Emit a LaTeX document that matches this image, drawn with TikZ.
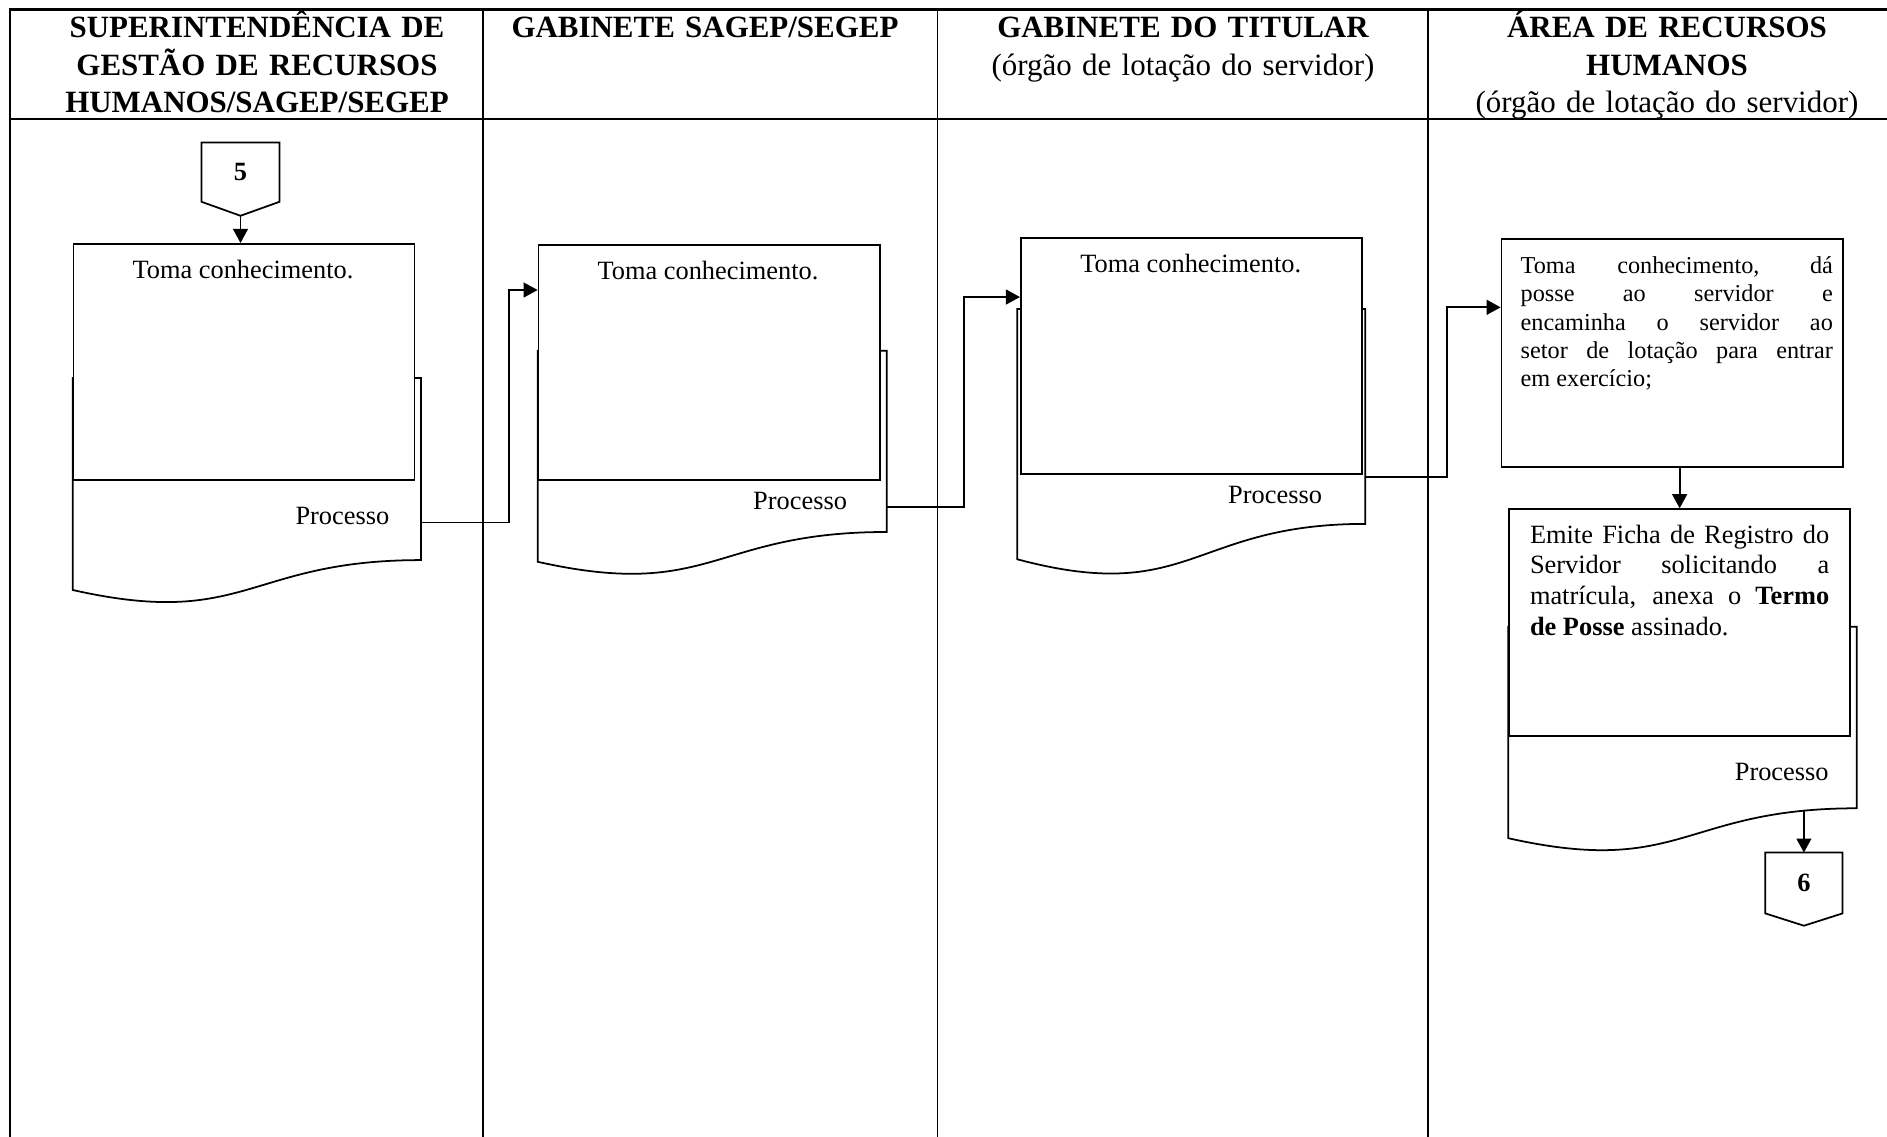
\documentclass[tikz,border=0pt]{standalone}
\usepackage{fontspec}
\setmainfont{Liberation Serif}
\usetikzlibrary{arrows.meta}

\begin{document}
\begin{tikzpicture}[x=0.01cm,y=-0.01cm,
    head/.style={font=\fontsize{8.8}{10.6}\selectfont\bfseries, align=center, text width=4.4cm, inner sep=0, anchor=base},
    task/.style={draw, fill=white, line width=0.5pt, inner sep=0, anchor=north west},
    txt/.style={font=\fontsize{7.5}{8.7}\selectfont, inner sep=0},
    doc/.style={draw, fill=white, line width=0.5pt},
    flow/.style={line width=0.55pt, -{Triangle[length=4pt,width=4.2pt]}}]
        \useasboundingbox (0,0) rectangle (1887,1137);

        % Lanes
        \draw[line width=0.65pt] (10,1137) -- (10,9.5) -- (1887,9.5);
        \draw[line width=0.65pt] (10,119) -- (1887,119);
        \draw[line width=0.4pt] (483,9.5) -- (483,1137);
        \draw[line width=0.4pt] (937.5,9.5) -- (937.5,1137);
        \draw[line width=0.4pt] (1428,9.5) -- (1428,1137);

        % Lane titles
        \node[head] (h1) at (257,38) {SUPERINTENDÊNCIA DE\\GESTÃO DE RECURSOS\\HUMANOS/SAGEP/SEGEP};
        \node[head] (h2) at (705,38) {GABINETE SAGEP/SEGEP};
        \node[head] (h3) at (1183,38) {GABINETE DO TITULAR\\{\mdseries (órgão de lotação do servidor)}};
        \node[head] (h4) at (1667,38) {ÁREA DE RECURSOS\\HUMANOS\\{\mdseries (órgão de lotação do servidor)}};

        % Incoming page connector
        \node[txt, font=\fontsize{7.5}{8.7}\selectfont\bfseries, minimum width=0.767cm, minimum height=0.577cm] (c5) at (240.5,172.2) {5};
        \draw[line width=0.5pt] (c5.south west) -- (c5.north west) -- (c5.north east) -- (c5.south east) -- ([yshift=-0.14cm]c5.south) -- cycle;
        \coordinate (c5tip) at ([yshift=-0.14cm]c5.south);

        % Step 1 with its document
        \draw[doc] (72.7,378) -- (421,378) -- (421,560.1) .. controls (246.9,560.1) and (246.9,629.3) .. (72.7,590) -- cycle;
        \node[task, minimum width=3.406cm, minimum height=2.363cm] (b1) at (72.7,243) {};
        \node[txt, anchor=base] (t1) at (243,278.3) {Toma conhecimento.};
        \node[txt, anchor=base east] (p1) at (390,525) {Processo};
        \coordinate (d1r) at (421,522.5);

        % Step 2
        \draw[doc] (537.7,350.7) -- (886.7,350.7) -- (886.7,532) .. controls (712.2,532) and (712.2,600.9) .. (537.7,561.8) -- cycle;
        \node[task, minimum width=3.41cm, minimum height=2.353cm] (b2) at (537.7,244) {};
        \node[txt, anchor=base] (t2) at (708,279.3) {Toma conhecimento.};
        \node[txt, anchor=base east] (p2) at (847.7,510) {Processo};
        \coordinate (d2r) at (886.7,507.3);

        % Step 3
        \draw[doc] (1017.3,309) -- (1365.3,309) -- (1365.3,523.9) .. controls (1191.3,523.9) and (1191.3,605.7) .. (1017.3,559.3) -- cycle;
        \node[task, minimum width=3.41cm, minimum height=2.354cm] (b3) at (1020,237.3) {};
        \node[txt, anchor=base] (t3) at (1190.8,272.3) {Toma conhecimento.};
        \node[txt, anchor=base east] (p3) at (1322.7,503.3) {Processo};
        \coordinate (d3r) at (1365.3,476.7);

        % Step 4 (no document)
        \node[task, minimum width=3.41cm, minimum height=2.274cm] (b4) at (1500.7,238.3) {};
        \node[txt, font=\fontsize{6.9}{8.05}\selectfont, text width=3.12cm, align=justify, anchor=base west] (t4) at (1520,273.5)
            {Toma conhecimento, dá\linebreak posse ao servidor e\linebreak encaminha o servidor ao\linebreak setor de lotação para entrar\linebreak em exercício;};

        % Step 5 with its document
        \draw[doc] (1508.3,626.7) -- (1856.7,626.7) -- (1856.7,808.3) .. controls (1682.5,808.3) and (1682.5,877.3) .. (1508.3,838.2) -- cycle;
        \node[task, minimum width=3.407cm, minimum height=2.267cm] (b5) at (1508.3,508.3) {};
        \node[txt, text width=2.99cm, align=justify, anchor=base west] (t5) at (1529.3,543.3)
            {Emite Ficha de Registro do\linebreak Servidor solicitando a\linebreak matrícula, anexa o \textbf{Termo}\linebreak \textbf{de Posse} assinado.};
        \node[txt, anchor=base east] (p5) at (1829.3,781) {Processo};
        \coordinate (d5b) at (1803.9,811);

        % Outgoing page connector
        \node[txt, font=\fontsize{7.5}{8.7}\selectfont\bfseries, minimum width=0.757cm, minimum height=0.594cm] (c6) at (1803.9,883) {6};
        \draw[line width=0.5pt] (c6.south west) -- (c6.north west) -- (c6.north east) -- (c6.south east) -- ([yshift=-0.123cm]c6.south) -- cycle;

        % Flow
        \draw[flow] (c5tip) -- (c5tip |- b1.north);
        \draw[flow] (d1r) -- ++(88.3,0) |- ([yshift=-0.46cm]b2.north west);
        \draw[flow] (d2r) -- ++(77.3,0) |- ([yshift=-0.597cm]b3.north west);
        \draw[flow] (d3r) -- ++(81.7,0) |- ([yshift=-0.69cm]b4.north west);
        \draw[flow] (b4.south -| b5.north) -- (b5.north);
        \draw[flow] (d5b) -- (d5b |- c6.north);

\end{tikzpicture}
\end{document}
